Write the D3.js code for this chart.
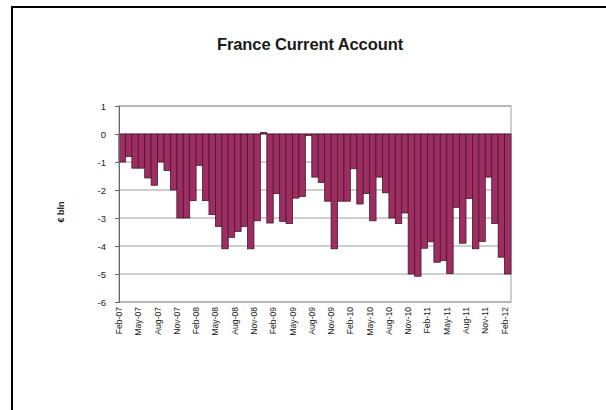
<!DOCTYPE html>
<html>
<head>
<meta charset="utf-8">
<script src="https://cdn.jsdelivr.net/npm/d3@7/dist/d3.min.js"></script>
<style>
  html, body { margin: 0; padding: 0; background: #fff; }
  svg { display: block; font-family: Arial, "Liberation Sans", sans-serif; }
</style>
</head>
<body>
<svg id="chart" width="606" height="410"></svg>
<script>
// Monthly current account balance, € bln, Feb-07 .. Feb-12
const months = d3.utcMonth.range(new Date(Date.UTC(2007, 1, 1)), new Date(Date.UTC(2012, 2, 1)))
  .map(d3.utcFormat("%b-%y"));
const balance = [
  -1.0, -0.8, -1.22, -1.22, -1.57, -1.83, -1.0, -1.3, -2.0, -3.0,
  -3.0, -2.38, -1.12, -2.38, -2.88, -3.3, -4.1, -3.69, -3.48, -3.3,
  -4.1, -3.1, 0.05, -3.18, -2.13, -3.12, -3.2, -2.29, -2.23, -0.05,
  -1.54, -1.73, -2.4, -4.1, -2.4, -2.4, -1.24, -2.5, -2.13, -3.1,
  -1.54, -2.1, -3.0, -3.2, -2.82, -5.0, -5.08, -4.08, -3.85, -4.58,
  -4.52, -4.98, -2.62, -3.9, -2.3, -4.1, -3.84, -1.54, -3.2, -4.4, -5.0
];
const xTickLabels = [
  "Feb-07", "May-07", "Aug-07", "Nov-07", "Feb-08", "May-08", "Aug-08", "Nov-08",
  "Feb-09", "May-09", "Aug-09", "Nov-09", "Feb-10", "May-10", "Aug-10", "Nov-10",
  "Feb-11", "May-11", "Aug-11", "Nov-11", "Feb-12"
];
const yTicks = [1, 0, -1, -2, -3, -4, -5, -6];

const svg = d3.select("#chart");

// outer frame
svg.append("rect")
  .attr("x", 12).attr("y", 7).attr("width", 640).attr("height", 440)
  .attr("fill", "none").attr("stroke", "#000").attr("stroke-width", 2);

const plot = { left: 119, right: 511, top: 106, bottom: 302 };

const x = d3.scaleBand().domain(months).range([plot.left, plot.right]).padding(0);
const y = d3.scaleLinear().domain([-6, 1]).range([plot.bottom, plot.top]);

// title
svg.append("text")
  .attr("x", 310).attr("y", 50)
  .attr("text-anchor", "middle")
  .attr("font-size", 16.5).attr("font-weight", "bold")
  .attr("letter-spacing", -0.1)
  .attr("fill", "#1a1a1a")
  .text("France Current Account");

// horizontal gridlines
svg.append("g")
  .selectAll("line")
  .data(yTicks)
  .join("line")
  .attr("x1", plot.left).attr("x2", plot.right)
  .attr("y1", d => y(d)).attr("y2", d => y(d))
  .attr("stroke", "#9e9e9e").attr("stroke-width", 1);

// plot area border
svg.append("rect")
  .attr("x", plot.left).attr("y", plot.top)
  .attr("width", plot.right - plot.left).attr("height", plot.bottom - plot.top)
  .attr("fill", "none").attr("stroke", "#9e9e9e").attr("stroke-width", 1);

// bars
svg.append("g")
  .selectAll("rect")
  .data(balance)
  .join("rect")
  .attr("x", (d, i) => x(months[i]))
  .attr("width", x.bandwidth())
  .attr("y", d => y(Math.max(0, d)))
  .attr("height", d => Math.abs(y(d) - y(0)))
  .attr("fill", "#9e2d62")
  .attr("stroke", "#45182c")
  .attr("stroke-width", 0.8);

// y axis (plain hyphen for negatives)
const yAxis = svg.append("g")
  .attr("transform", `translate(${plot.left},0)`)
  .call(d3.axisLeft(y).tickValues(yTicks).tickFormat(d => String(d)).tickSize(4).tickPadding(9));
yAxis.select(".domain").attr("stroke", "#666");
yAxis.selectAll(".tick line").attr("stroke", "#666");
yAxis.selectAll("text").attr("font-size", 9.5).attr("fill", "#222")
  .attr("font-family", "Arial, 'Liberation Sans', sans-serif");

// x axis labels, every third month, rotated
const xAxis = svg.append("g")
  .attr("transform", `translate(0,${plot.bottom})`)
  .call(d3.axisBottom(x).tickValues(xTickLabels).tickSize(0).tickPadding(0));
xAxis.select(".domain").remove();
xAxis.selectAll(".tick")
  .attr("transform", d => `translate(${x(d)},0)`);
xAxis.selectAll("text")
  .attr("font-size", 8.6)
  .attr("fill", "#222")
  .attr("font-family", "Arial, 'Liberation Sans', sans-serif")
  .attr("text-anchor", "end")
  .attr("transform", "rotate(-90)")
  .attr("x", -5).attr("y", 0).attr("dy", "0.35em");

// y axis title
svg.append("text")
  .attr("transform", "translate(64,212) rotate(-90)")
  .attr("text-anchor", "middle")
  .attr("font-size", 9).attr("font-weight", "bold")
  .attr("fill", "#222")
  .text("€ bln");
</script>
</body>
</html>
